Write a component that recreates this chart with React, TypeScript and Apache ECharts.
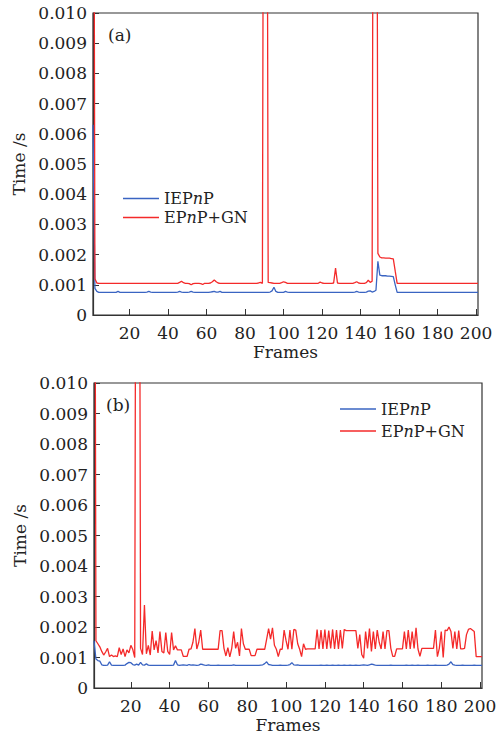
import React, { useEffect, useRef } from 'react';
import * as echarts from 'echarts';

const FONT = 'DejaVu Serif';
const TEXT_COLOR = '#222';
const AXIS_COLOR = '#333';
const BLUE = '#3a64c2';
const RED = '#f42a2a';

const SERIES_NAMES = ['IEPnP', 'EPnP+GN'];
const PANEL_LABELS = ['(a)', '(b)'];
const X_TICKS = [20, 40, 60, 80, 100, 120, 140, 160, 180, 200];

// Time values in milliseconds, frames 1..201 (axis labels show seconds)
const IEPNP_A = [
  6.3, 0.88, 0.78, 0.75, 0.75, 0.75, 0.75, 0.75, 0.75, 0.75,
  0.75, 0.75, 0.75, 0.78, 0.75, 0.75, 0.75, 0.75, 0.75, 0.75,
  0.75, 0.75, 0.75, 0.75, 0.75, 0.75, 0.75, 0.75, 0.76, 0.78,
  0.76, 0.75, 0.75, 0.75, 0.75, 0.75, 0.75, 0.75, 0.75, 0.75,
  0.75, 0.75, 0.75, 0.75, 0.76, 0.78, 0.76, 0.75, 0.75, 0.75,
  0.76, 0.78, 0.76, 0.75, 0.75, 0.75, 0.75, 0.75, 0.75, 0.75,
  0.75, 0.76, 0.77, 0.78, 0.76, 0.76, 0.78, 0.75, 0.75, 0.75,
  0.75, 0.75, 0.75, 0.75, 0.75, 0.75, 0.75, 0.75, 0.75, 0.75,
  0.75, 0.75, 0.75, 0.75, 0.75, 0.75, 0.75, 0.75, 0.75, 0.75,
  0.75, 0.75, 0.76, 0.8, 0.92, 0.78, 0.75, 0.75, 0.75, 0.75,
  0.78, 0.76, 0.75, 0.75, 0.75, 0.75, 0.75, 0.75, 0.75, 0.75,
  0.75, 0.75, 0.75, 0.75, 0.75, 0.75, 0.75, 0.75, 0.75, 0.75,
  0.75, 0.75, 0.75, 0.75, 0.75, 0.75, 0.75, 0.75, 0.75, 0.75,
  0.75, 0.75, 0.75, 0.75, 0.75, 0.75, 0.76, 0.78, 0.76, 0.75,
  0.75, 0.75, 0.76, 0.79, 0.8, 0.76, 0.78, 0.82, 1.78, 1.32,
  1.3, 1.3, 1.3, 1.29, 1.29, 1.28, 1.27, 1.0, 0.75, 0.75,
  0.75, 0.75, 0.75, 0.75, 0.75, 0.75, 0.75, 0.75, 0.75, 0.75,
  0.75, 0.75, 0.75, 0.75, 0.75, 0.75, 0.75, 0.75, 0.75, 0.75,
  0.75, 0.75, 0.75, 0.75, 0.75, 0.75, 0.75, 0.75, 0.75, 0.75,
  0.75, 0.75, 0.75, 0.75, 0.75, 0.75, 0.75, 0.75, 0.75, 0.75,
  0.75,
];

const EPNPGN_A = [
  30, 1.2, 1.06, 1.05, 1.05, 1.05, 1.05, 1.05, 1.05, 1.05,
  1.05, 1.05, 1.05, 1.05, 1.05, 1.05, 1.05, 1.05, 1.05, 1.05,
  1.05, 1.05, 1.05, 1.05, 1.05, 1.05, 1.05, 1.05, 1.05, 1.05,
  1.05, 1.05, 1.05, 1.05, 1.05, 1.05, 1.05, 1.05, 1.05, 1.05,
  1.05, 1.05, 1.05, 1.05, 1.05, 1.08, 1.12, 1.07, 1.05, 1.05,
  1.04, 1.0, 1.04, 1.05, 1.05, 1.05, 1.04, 1.01, 1.05, 1.05,
  1.05, 1.06, 1.1, 1.16, 1.1, 1.06, 1.05, 1.05, 1.05, 1.05,
  1.05, 1.05, 1.05, 1.05, 1.05, 1.05, 1.05, 1.05, 1.05, 1.05,
  1.05, 1.05, 1.05, 1.05, 1.05, 1.05, 1.06, 1.08, 1.05, 30,
  30, 1.08, 1.07, 1.06, 1.05, 1.05, 1.05, 1.05, 1.07, 1.1,
  1.08, 1.05, 1.05, 1.05, 1.05, 1.05, 1.05, 1.05, 1.05, 1.05,
  1.05, 1.05, 1.05, 1.05, 1.05, 1.05, 1.05, 1.05, 1.09, 1.06,
  1.05, 1.05, 1.05, 1.05, 1.05, 1.06, 1.55, 1.06, 1.05, 1.05,
  1.05, 1.05, 1.05, 1.05, 1.05, 1.05, 1.07, 1.1, 1.06, 1.05,
  1.05, 1.05, 1.07, 1.15, 1.08, 1.12, 30, 30, 2.04, 1.92,
  1.89, 1.89, 1.88, 1.88, 1.88, 1.87, 1.86, 1.45, 1.05, 1.05,
  1.05, 1.05, 1.05, 1.05, 1.05, 1.05, 1.05, 1.05, 1.05, 1.05,
  1.05, 1.05, 1.05, 1.05, 1.05, 1.05, 1.05, 1.05, 1.05, 1.05,
  1.05, 1.05, 1.05, 1.05, 1.05, 1.05, 1.05, 1.05, 1.05, 1.05,
  1.05, 1.05, 1.05, 1.05, 1.05, 1.05, 1.05, 1.05, 1.05, 1.05,
  1.05,
];

const IEPNP_B = [
  1.55, 0.95, 0.9, 0.88, 0.76, 0.74, 0.74, 0.75, 0.86, 0.75,
  0.74, 0.74, 0.74, 0.74, 0.74, 0.74, 0.75, 0.8, 0.84, 0.83,
  0.77, 0.75, 0.78, 0.75, 0.84, 0.76, 0.75, 0.79, 0.75, 0.74,
  0.74, 0.74, 0.74, 0.74, 0.74, 0.74, 0.74, 0.74, 0.74, 0.74,
  0.74, 0.75, 0.9, 0.76, 0.74, 0.75, 0.76, 0.75, 0.74, 0.77,
  0.75, 0.76, 0.75, 0.74, 0.75, 0.78, 0.77, 0.75, 0.74, 0.76,
  0.74, 0.74, 0.74, 0.74, 0.75, 0.74, 0.74, 0.74, 0.74, 0.74,
  0.74, 0.74, 0.76, 0.74, 0.74, 0.74, 0.74, 0.74, 0.74, 0.74,
  0.74, 0.74, 0.74, 0.74, 0.74, 0.74, 0.75, 0.76, 0.8, 0.86,
  0.77, 0.76, 0.74, 0.74, 0.74, 0.74, 0.75, 0.74, 0.74, 0.74,
  0.75, 0.77, 0.83, 0.76, 0.75, 0.76, 0.74, 0.74, 0.74, 0.74,
  0.74, 0.74, 0.74, 0.74, 0.74, 0.74, 0.74, 0.75, 0.74, 0.74,
  0.75, 0.74, 0.74, 0.75, 0.74, 0.74, 0.75, 0.74, 0.74, 0.75,
  0.74, 0.74, 0.75, 0.74, 0.74, 0.75, 0.74, 0.74, 0.75, 0.76,
  0.75, 0.74, 0.76, 0.78, 0.77, 0.75, 0.74, 0.74, 0.74, 0.74,
  0.74, 0.74, 0.74, 0.75, 0.74, 0.74, 0.74, 0.74, 0.74, 0.74,
  0.74, 0.75, 0.74, 0.74, 0.75, 0.74, 0.74, 0.75, 0.74, 0.74,
  0.74, 0.74, 0.75, 0.74, 0.74, 0.74, 0.75, 0.74, 0.74, 0.74,
  0.74, 0.74, 0.75, 0.78, 0.86, 0.77, 0.75, 0.74, 0.74, 0.74,
  0.75, 0.74, 0.74, 0.74, 0.74, 0.74, 0.75, 0.74, 0.74, 0.74,
  0.74,
];

const EPNPGN_B = [
  30, 1.55, 1.45, 1.35, 1.2, 1.08, 1.18, 1.3, 1.03, 1.08,
  1.03, 1.05, 1.03, 1.32, 1.1, 1.28, 1.03, 1.25, 1.15, 1.4,
  1.26, 1.0, 30, 30, 1.3, 1.1, 2.72, 1.12, 1.4, 1.08,
  1.87, 1.25, 1.55, 1.15, 1.85, 1.2, 1.15, 1.82, 1.2, 1.1,
  1.82, 1.25, 1.38, 1.25, 1.25, 1.25, 1.04, 1.04, 1.04, 1.27,
  1.28, 1.5, 1.95, 1.28, 1.5, 1.9, 1.27, 1.27, 1.27, 1.27,
  1.27, 1.27, 1.27, 1.27, 1.27, 1.88, 1.88, 1.3, 1.05, 1.32,
  1.02, 1.3, 1.85, 1.3, 1.5, 1.05, 1.95, 1.45, 1.27, 1.27,
  1.27, 1.06, 1.06, 1.06, 1.27, 1.27, 1.27, 1.27, 1.27, 1.6,
  1.95, 1.6, 1.97, 1.4, 1.27, 1.03, 1.27, 1.27, 1.9, 1.55,
  1.27, 1.9, 1.27, 1.92, 1.9, 1.45, 1.27, 1.03, 1.45, 1.27,
  1.28, 1.28, 1.28, 1.28, 1.28, 1.92, 1.28, 1.9, 1.28, 1.92,
  1.28, 1.88, 1.3, 1.92, 1.28, 1.9, 1.28, 1.9, 1.3, 1.92,
  1.88, 1.88, 1.88, 1.88, 1.88, 1.88, 1.3, 1.75, 1.1, 0.98,
  1.85, 1.3, 1.95, 1.2, 1.85, 1.28, 1.9, 1.5, 1.28, 1.85,
  1.28, 1.88, 1.88, 1.3, 1.04, 1.04, 1.28, 1.28, 1.28, 1.28,
  1.85, 1.28, 1.9, 1.28, 1.85, 1.3, 1.97, 1.28, 1.04, 1.3,
  1.3, 1.3, 1.3, 1.3, 1.3, 1.3, 1.9, 1.03, 1.3, 1.85,
  1.0, 1.9, 1.88, 2.0, 1.85, 1.3, 1.85, 1.28, 1.88, 1.28,
  1.28, 1.3, 1.75, 1.92, 1.95, 1.9, 1.85, 1.03, 1.03, 1.03,
  1.03,
];

const toPairs = (vals: number[]) => vals.map((v, i) => [i + 1, v]);

const LEGEND_FS = 16;
const makeRich = (lh: number) => ({
  t: { fontFamily: FONT, fontSize: LEGEND_FS, color: TEXT_COLOR, lineHeight: lh },
  i: { fontFamily: FONT, fontSize: LEGEND_FS, color: TEXT_COLOR, fontStyle: 'italic', lineHeight: lh },
});
const legendFormatter = (name: string) =>
  name === 'IEPnP' ? '{t|IEP}{i|n}{t|P}' : '{t|EP}{i|n}{t|P+GN}';

export default function App() {
  const ref = useRef<HTMLDivElement>(null);

  useEffect(() => {
    if (!ref.current) return;
    const chart = echarts.init(ref.current, undefined, { renderer: 'svg' });

    const grids = [
      { left: 93, top: 13, width: 385, height: 302 },
      { left: 94, top: 383, width: 388, height: 305 },
    ];

    const xAxis = grids.map((_, i) => ({
      type: 'value',
      gridIndex: i,
      min: 1,
      max: 201,
      name: 'Frames',
      nameLocation: 'middle',
      nameGap: 28,
      nameTextStyle: { fontFamily: FONT, fontSize: 17, color: TEXT_COLOR, lineHeight: 17 },
      axisLine: { show: true, onZero: false, lineStyle: { color: AXIS_COLOR, width: 1.2 } },
      axisTick: { show: true, inside: true, length: 6, customValues: X_TICKS, lineStyle: { color: AXIS_COLOR } },
      axisLabel: { customValues: X_TICKS, fontFamily: FONT, fontSize: 17, color: TEXT_COLOR, margin: 9, lineHeight: 17 },
      splitLine: { show: false },
    }));

    const yAxis = grids.map((_, i) => ({
      type: 'value',
      gridIndex: i,
      min: 0,
      max: 10,
      interval: 1,
      name: 'Time /s',
      nameLocation: 'middle',
      nameGap: 53,
      nameRotate: 90,
      nameTextStyle: { fontFamily: FONT, fontSize: 17, color: TEXT_COLOR },
      axisLine: { show: true, onZero: false, lineStyle: { color: AXIS_COLOR, width: 1.2 } },
      axisTick: { show: true, inside: true, length: 6, lineStyle: { color: AXIS_COLOR } },
      axisLabel: {
        fontFamily: FONT,
        fontSize: 17,
        color: TEXT_COLOR,
        margin: 6,
        formatter: (v: number) => (v === 0 ? '0' : (v / 1000).toFixed(3)),
      },
      splitLine: { show: false },
    }));

    const lineSeries = (name: string, vals: number[], idx: number, color: string) => ({
      name,
      type: 'line',
      xAxisIndex: idx,
      yAxisIndex: idx,
      data: toPairs(vals),
      symbol: 'none',
      showSymbol: false,
      clip: true,
      lineStyle: { color, width: 1.3 },
      itemStyle: { color },
    });

    chart.setOption({
      animation: false,
      backgroundColor: '#fff',
      grid: grids.map((g) => ({ ...g, show: true, borderColor: AXIS_COLOR, borderWidth: 1.2 })),
      xAxis,
      yAxis,
      legend: [
        {
          data: SERIES_NAMES,
          orient: 'vertical',
          left: 123,
          top: 189,
          padding: 0,
          icon: 'rect',
          itemWidth: 36,
          itemHeight: 1.5,
          itemGap: 0,
          formatter: legendFormatter,
          textStyle: { fontFamily: FONT, fontSize: LEGEND_FS, color: TEXT_COLOR, lineHeight: 19, rich: makeRich(19) },
        },
        {
          data: SERIES_NAMES,
          orient: 'vertical',
          left: 340,
          top: 399,
          padding: 0,
          icon: 'rect',
          itemWidth: 36,
          itemHeight: 1.5,
          itemGap: 2,
          formatter: legendFormatter,
          textStyle: { fontFamily: FONT, fontSize: LEGEND_FS, color: TEXT_COLOR, lineHeight: 20, rich: makeRich(20) },
        },
      ],
      graphic: [
        {
          type: 'text',
          x: 108,
          y: 35,
          style: { text: PANEL_LABELS[0], fontFamily: FONT, fontSize: 17, fill: TEXT_COLOR, verticalAlign: 'middle' },
        },
        {
          type: 'text',
          x: 106,
          y: 405,
          style: { text: PANEL_LABELS[1], fontFamily: FONT, fontSize: 17, fill: TEXT_COLOR, verticalAlign: 'middle' },
        },
      ],
      series: [
        lineSeries(SERIES_NAMES[0], IEPNP_A, 0, BLUE),
        lineSeries(SERIES_NAMES[1], EPNPGN_A, 0, RED),
        lineSeries(SERIES_NAMES[0], IEPNP_B, 1, BLUE),
        lineSeries(SERIES_NAMES[1], EPNPGN_B, 1, RED),
      ],
    });

    return () => chart.dispose();
  }, []);

  return (
    <div
      ref={ref}
      style={{ position: 'absolute', left: 0, top: 0, width: 501, height: 738, background: '#fff' }}
    />
  );
}
